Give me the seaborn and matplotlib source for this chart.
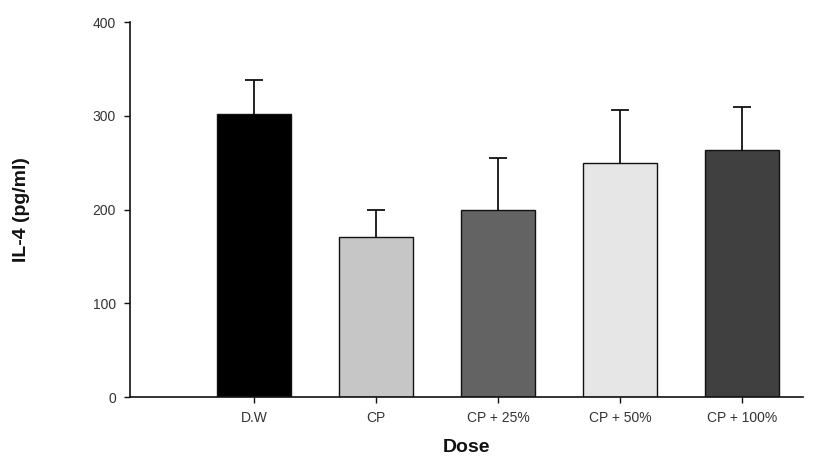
import matplotlib
matplotlib.use("Agg")
import matplotlib.pyplot as plt
import seaborn as sns
import pandas as pd
import numpy as np

groups = ["D.W", "CP", "CP + 25%", "CP + 50%", "CP + 100%"]
means = [302, 171, 200, 250, 263]
errors = [36, 28, 55, 56, 46]
colors = ["#000000", "#c6c6c6", "#636363", "#e6e6e6", "#404040"]

sns.set_theme(style="white")
plt.rcParams["font.family"] = ["Liberation Sans", "DejaVu Sans"]

df = pd.DataFrame({"Dose": groups, "IL4": means})

fig = plt.figure(figsize=(8.14, 4.69), dpi=100)
ax = fig.add_axes([130 / 814, 72 / 469, (803 - 130) / 814, (397 - 22) / 469])

sns.barplot(data=df, x="Dose", y="IL4", hue="Dose", palette=colors, order=groups,
            hue_order=groups, legend=False, errorbar=None, width=0.607,
            edgecolor="#111111", linewidth=1.0, ax=ax, zorder=2)

x = np.arange(len(groups))
tops = np.array(means) + np.array(errors)
ax.vlines(x, means, tops, colors="#111111", linewidth=1.3, zorder=1)
ax.plot(x, tops, linestyle="none", marker="_", markersize=13, markeredgewidth=1.3,
        color="#111111", zorder=1)

ax.set_ylim(0, 400)
ax.set_xlim(-1.016, 4.5)
ax.set_yticks([0, 100, 200, 300, 400])
ax.tick_params(axis="both", direction="out", length=4, width=1, color="#111111",
               labelsize=10, labelcolor="#333333", pad=6)
ax.tick_params(axis="y", left=True)
ax.tick_params(axis="x", bottom=True)

for side in ["top", "right"]:
    ax.spines[side].set_visible(False)
for side in ["left", "bottom"]:
    ax.spines[side].set_color("#111111")
    ax.spines[side].set_linewidth(1.2)

ax.set_xlabel("Dose", fontsize=14, fontweight="bold", labelpad=10, color="#111111")
ax.set_ylabel("IL-4 (pg/ml)", fontsize=14, fontweight="bold", labelpad=45, color="#111111")

fig.savefig("out.png", dpi=100)
